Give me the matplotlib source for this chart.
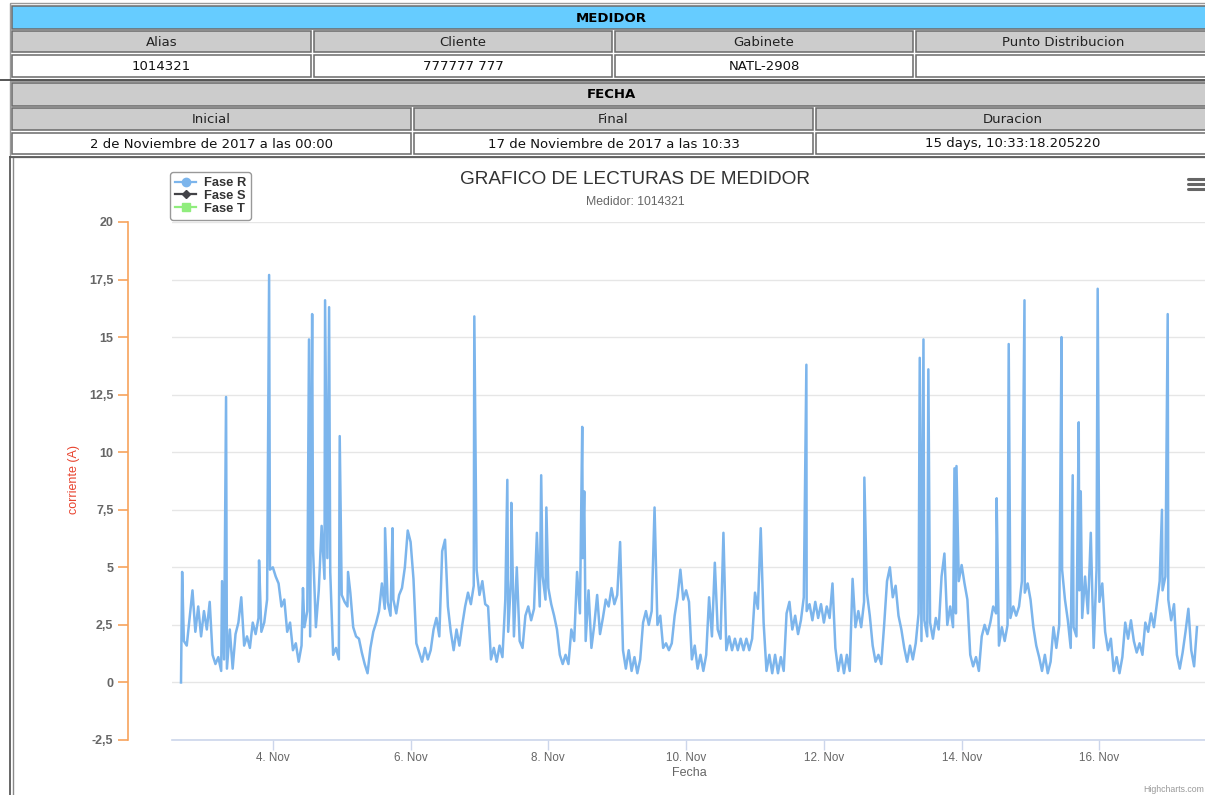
import matplotlib
matplotlib.use("Agg")
import matplotlib.pyplot as plt
import matplotlib.dates as mdates
from matplotlib.patches import Rectangle
from matplotlib.lines import Line2D
import numpy as np
from datetime import datetime, timedelta

# ---------------- data ----------------
titulo = "GRAFICO DE LECTURAS DE MEDIDOR"
subtitulo = "Medidor: 1014321"
series_nombres = ["Fase R", "Fase S", "Fase T"]
inicio = datetime(2017, 11, 2, 16, 0)   # first reading, hourly afterwards

fase_r = [
    0.0, 1.8, 1.6, 2.8, 4.0, 2.2, 3.3, 2.0, 3.1, 2.3,
    3.5, 1.2, 0.8, 1.1, 0.5, 1.0, 0.6, 2.3, 0.6, 2.1,
    2.6, 3.7, 1.6, 2.0, 1.5, 2.6, 2.1, 2.8, 2.2, 2.6,
    3.6, 4.9, 5.0, 4.6, 4.3, 3.3, 3.6, 2.2, 2.6, 1.4,
    1.7, 0.9, 1.6, 2.4, 3.1, 2.0, 5.8, 2.4, 4.0, 6.8,
    4.5, 5.4, 4.8, 1.2, 1.5, 1.0, 3.8, 3.5, 3.3, 3.9,
    2.4, 2.0, 1.9, 1.3, 0.8, 0.4, 1.5, 2.2, 2.6, 3.1,
    4.3, 3.2, 3.5, 2.9, 3.6, 3.0, 3.8, 4.1, 5.0, 6.6,
    6.1, 4.5, 1.7, 1.3, 0.9, 1.5, 1.0, 1.4, 2.3, 2.8,
    2.0, 5.7, 6.2, 3.3, 2.2, 1.4, 2.3, 1.6, 2.5, 3.3,
    3.9, 3.4, 4.2, 4.9, 3.8, 4.4, 3.4, 3.3, 1.0, 1.5,
    0.9, 1.6, 1.1, 3.6, 2.2, 4.5, 2.0, 5.0, 1.8, 1.5,
    2.9, 3.3, 2.7, 3.2, 6.5, 3.3, 4.6, 3.6, 4.1, 3.4,
    2.9, 2.3, 1.2, 0.8, 1.2, 0.8, 2.3, 1.8, 4.8, 3.0,
    5.4, 1.8, 4.0, 1.5, 2.5, 3.8, 2.1, 2.8, 3.6, 3.3,
    4.1, 3.4, 3.8, 6.1, 1.4, 0.6, 1.4, 0.5, 1.1, 0.4,
    1.0, 2.6, 3.1, 2.5, 3.1, 7.6, 2.5, 2.9, 1.5, 1.7,
    1.4, 1.7, 2.9, 3.7, 4.9, 3.6, 4.0, 3.5, 1.0, 1.6,
    0.6, 1.2, 0.5, 1.2, 3.7, 2.0, 5.2, 2.3, 1.9, 6.5,
    1.4, 2.0, 1.4, 1.9, 1.4, 1.9, 1.4, 1.9, 1.4, 1.9,
    3.9, 3.2, 6.7, 2.6, 0.5, 1.2, 0.4, 1.2, 0.4, 1.1,
    0.5, 3.0, 3.5, 2.3, 2.9, 2.1, 2.7, 3.7, 3.1, 3.4,
    2.7, 3.5, 2.8, 3.4, 2.6, 3.3, 2.8, 4.3, 1.5, 0.5,
    1.2, 0.4, 1.2, 0.5, 4.5, 2.4, 3.1, 2.4, 3.5, 3.9,
    2.9, 1.6, 0.9, 1.2, 0.8, 2.5, 4.4, 5.0, 3.7, 4.2,
    2.9, 2.3, 1.5, 0.9, 1.6, 1.0, 1.7, 3.0, 1.8, 2.7,
    2.0, 2.6, 1.9, 2.8, 2.3, 4.6, 5.6, 2.5, 3.3, 2.4,
    3.0, 4.4, 5.1, 4.3, 3.6, 1.2, 0.7, 1.1, 0.5, 2.0,
    2.5, 2.1, 2.6, 3.3, 3.0, 1.6, 2.4, 1.8, 2.5, 2.8,
    3.3, 2.9, 3.3, 4.4, 3.9, 4.3, 3.6, 2.4, 1.6, 1.1,
    0.5, 1.2, 0.4, 0.9, 2.4, 1.5, 2.5, 4.9, 3.6, 2.7,
    1.5, 2.4, 2.0, 4.0, 2.8, 4.6, 3.0, 6.5, 1.5, 4.9,
    3.5, 4.3, 2.2, 1.4, 1.9, 0.5, 1.1, 0.4, 1.1, 2.6,
    1.9, 2.7, 1.8, 1.3, 1.7, 1.2, 2.6, 2.2, 3.0, 2.4,
    3.4, 4.4, 4.0, 4.6, 3.6, 2.7, 3.4, 1.2, 0.6, 1.3,
    2.2, 3.2, 1.4, 0.7, 2.4,
]
# short current peaks (hours after 'inicio', amps)
picos_horas = [0.4, 14.3, 15.7, 27.2, 30.7, 42.5, 44.6, 45.7, 50.2, 51.6,
               55.3, 58.2, 71.1, 73.7, 102.2, 113.7, 115.1, 125.5, 127.3,
               139.8, 140.5, 217.9, 238.1, 257.4, 258.7, 260.4, 269.5, 270.2,
               284.2, 288.4, 293.9, 306.8, 310.7, 312.8, 313.5, 319.4, 341.8,
               343.8]
picos_valores = [4.8, 4.4, 12.4, 5.3, 17.7, 4.1, 14.9, 16.0, 16.6, 16.3,
                 10.7, 4.8, 6.7, 6.7, 15.9, 8.8, 7.8, 9.0, 7.6,
                 11.1, 8.3, 13.8, 8.9, 14.1, 14.9, 13.6, 9.3, 9.4,
                 8.0, 14.7, 16.6, 15.0, 9.0, 11.3, 8.3, 17.1, 7.5,
                 16.0]
fase_s = []
fase_t = []

ticks_y = [-2.5, 0, 2.5, 5, 7.5, 10, 12.5, 15, 17.5, 20]
etiquetas_y = ["-2,5", "0", "2,5", "5", "7,5", "10", "12,5", "15", "17,5", "20"]
dias_ticks = [4, 6, 8, 10, 12, 14, 16]

tabla_medidor_cab = ["Alias", "Cliente", "Gabinete", "Punto Distribucion"]
tabla_medidor_val = ["1014321", "777777 777", "NATL-2908", ""]
tabla_fecha_cab = ["Inicial", "Final", "Duracion"]
tabla_fecha_val = ["2 de Noviembre de 2017 a las 00:00",
                   "17 de Noviembre de 2017 a las 10:33",
                   "15 days, 10:33:18.205220"]

# ---------------- figure ----------------
W, H = 1205, 795
fig = plt.figure(figsize=(W / 100, H / 100), dpi=100)
fig.patch.set_facecolor("white")
bg = fig.add_axes([0, 0, 1, 1])
bg.set_xlim(0, W)
bg.set_ylim(H, 0)
bg.axis("off")

TF = "DejaVu Sans"
CF = "Liberation Sans"


def cell(x0, x1, y0, y1, fc, text, bold=False, color="#1a1a1a"):
    bg.add_patch(Rectangle((x0, y0), x1 - x0, y1 - y0, facecolor=fc,
                           edgecolor="#6a6a6a", lw=1.1))
    bg.text((x0 + x1) / 2, (y0 + y1) / 2 + 0.5, text, ha="center", va="center",
            fontsize=9.5, family=TF, weight="bold" if bold else "normal",
            color=color)


# outer borders
bg.add_patch(Rectangle((10, 3), 1210, 77, facecolor="none", edgecolor="#9a9a9a", lw=1))
bg.plot([0, W], [80, 80], color="#555555", lw=1.4)
bg.add_patch(Rectangle((10, 81), 1210, 76, facecolor="none", edgecolor="#9a9a9a", lw=1))
bg.plot([10, 10], [157, H], color="#5a5a5a", lw=1.3)
bg.plot([13, 13], [157, H], color="#8a8a8a", lw=1.0)
bg.plot([10, W], [157, 157], color="#5a5a5a", lw=1.3)

# table MEDIDOR
cell(12, 1210, 6, 29, "#66ccff", "MEDIDOR", bold=True, color="#000000")
cols4 = [(12, 311), (314, 612), (615, 913), (916, 1210)]
for (a, b), txt in zip(cols4, tabla_medidor_cab):
    cell(a, b, 31, 52, "#cccccc", txt, color="#222222")
for (a, b), txt in zip(cols4, tabla_medidor_val):
    cell(a, b, 55, 77, "white", txt, color="#111111")

# table FECHA
cell(12, 1210, 83, 106, "#cccccc", "FECHA", bold=True, color="#000000")
cols3 = [(12, 411), (414, 813), (816, 1210)]
for (a, b), txt in zip(cols3, tabla_fecha_cab):
    cell(a, b, 108, 130, "#cccccc", txt, color="#222222")
for (a, b), txt in zip(cols3, tabla_fecha_val):
    cell(a, b, 133, 154, "white", txt, color="#111111")

# menu icon
for yy in (179, 184, 189):
    bg.plot([1188, 1205], [yy, yy], color="#666666", lw=2.2, solid_capstyle="round")

# ---------------- chart ----------------
ax = fig.add_axes([172 / W, 1 - 740 / H, (W - 172) / W, (740 - 222) / H])
ax.set_facecolor("none")

t_all = [inicio + timedelta(hours=i) for i in range(len(fase_r))] + \
        [inicio + timedelta(hours=h) for h in picos_horas]
v_all = list(fase_r) + list(picos_valores)
tn = mdates.date2num(t_all)
order = np.argsort(tn)
tn = np.asarray(tn)[order]
v_all = np.asarray(v_all)[order]

ax.plot(tn, v_all, color="#7cb5ec", lw=1.8, solid_joinstyle="round", zorder=3)
ax.plot(fase_s, fase_s, color="#434348", lw=1.5)
ax.plot(fase_t, fase_t, color="#90ed7d", lw=1.5)

px_per_h = 2.87
x0 = inicio + timedelta(hours=(172 - 181) / px_per_h)
x1 = inicio + timedelta(hours=(1205 - 181) / px_per_h)
ax.set_xlim(mdates.date2num(x0), mdates.date2num(x1))
ax.set_ylim(-2.5, 20)

ax.set_yticks(ticks_y)
ax.set_yticklabels(etiquetas_y)
ax.set_xticks([mdates.date2num(datetime(2017, 11, d)) for d in dias_ticks])
ax.xaxis.set_major_formatter(mdates.DateFormatter("%-d. %b"))

ax.yaxis.grid(True, color="#e6e6e6", lw=1)
ax.set_axisbelow(True)

orange = "#f7a35c"
for s in ("top", "right"):
    ax.spines[s].set_visible(False)
ax.spines["left"].set_position(("outward", 44 * 0.72))
ax.spines["left"].set_color(orange)
ax.spines["left"].set_linewidth(1.2)
ax.spines["bottom"].set_color("#ccd6eb")
ax.spines["bottom"].set_linewidth(1.2)

ax.tick_params(axis="y", colors=orange, length=7, width=1.2, pad=3.5,
               labelcolor="#666666", labelsize=9)
ax.tick_params(axis="x", colors="#ccd6eb", length=7, width=1, pad=1.5,
               labelcolor="#666666", labelsize=8.4)
for lab in ax.get_yticklabels():
    lab.set_family(CF)
    lab.set_weight("bold")
for lab in ax.get_xticklabels():
    lab.set_family(CF)

ax.set_ylabel("corriente (A)", color="#e8432e", fontsize=9, family=CF)
ax.yaxis.set_label_coords((80 - 172) / (W - 172), (740 - 480) / (740 - 222))
ax.set_xlabel("Fecha", color="#666666", fontsize=9, family=CF)
ax.xaxis.set_label_coords((689 - 172) / (W - 172), -(767 - 740) / (740 - 222))

fig.text(635 / W, 1 - 180 / H, titulo, ha="center", va="center",
         fontsize=13.7, color="#333333", family=CF)
fig.text(635 / W, 1 - 202 / H, subtitulo, ha="center", va="center",
         fontsize=8.8, color="#666666", family=CF)
fig.text(1204 / W, 1 - 789 / H, "Highcharts.com", ha="right", va="center",
         fontsize=6.3, color="#999999", family=CF)

handles = [
    Line2D([], [], color="#7cb5ec", lw=1.6, marker="o", markersize=6),
    Line2D([], [], color="#434348", lw=1.6, marker="D", markersize=4.5),
    Line2D([], [], color="#90ed7d", lw=1.6, marker="s", markersize=5.5),
]
leg = fig.legend(handles, series_nombres, loc="upper left",
                 bbox_to_anchor=(170 / W, 1 - 172 / H), frameon=True,
                 fancybox=True, edgecolor="#999999", framealpha=1,
                 prop={"family": CF, "weight": "bold", "size": 9.3},
                 handlelength=1.6, handletextpad=0.6, labelspacing=0.05,
                 borderpad=0.4, borderaxespad=0)
for txt in leg.get_texts():
    txt.set_color("#333333")
leg.get_frame().set_linewidth(1.0)

fig.savefig("out.png", dpi=100, facecolor="white")
